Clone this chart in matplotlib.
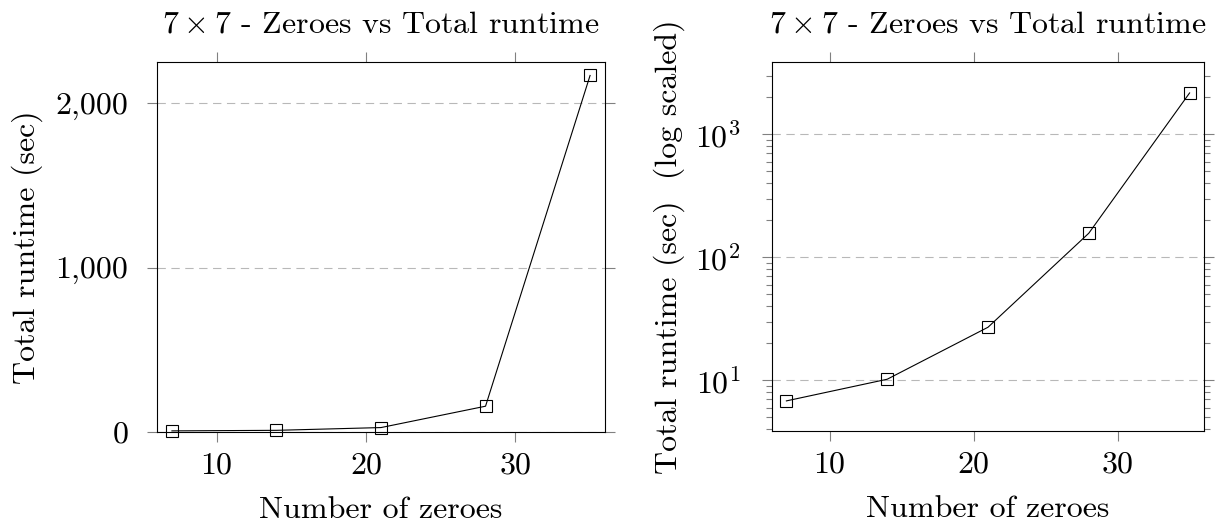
import matplotlib
matplotlib.use('Agg')
import matplotlib.pyplot as plt
from matplotlib.ticker import FuncFormatter, LogLocator, FixedLocator

# Computer Modern look
plt.rcParams['font.family'] = ['cmr10']
plt.rcParams['mathtext.fontset'] = 'cm'
plt.rcParams['axes.formatter.use_mathtext'] = True
plt.rcParams['lines.scale_dashes'] = False

zeroes = [7, 14, 21, 28, 35]
runtime = [6.8, 10.2, 27, 157, 2170]
x_ticks = [10, 20, 30]
lin_ticks = [0, 1000, 2000]

title = r'$7\times7$ - Zeroes vs Total runtime'
fs = 23
tick_gray = '#808080'

fig = plt.figure(figsize=(12.31, 5.23), dpi=100)
ax1 = fig.add_axes([157/1231, 91/523, 448/1231, 370/523])
ax2 = fig.add_axes([772/1231, 92/523, 432/1231, 369/523])


def style(ax, ypad):
    for s in ax.spines.values():
        s.set_linewidth(0.8)
        s.set_color('black')
    ax.tick_params(which='both', direction='out', color=tick_gray,
                   top=True, right=True, labelsize=fs, width=0.8)
    ax.tick_params(which='major', length=7.5)
    ax.tick_params(which='minor', length=4.5)
    ax.tick_params(axis='x', pad=7)
    ax.tick_params(axis='y', pad=ypad)
    ax.grid(True, axis='y', which='major', color='#b8b8b8',
            linestyle=(0, (6, 4)), linewidth=0.8)
    ax.set_axisbelow(True)
    ax.xaxis.set_major_locator(FixedLocator(x_ticks))
    ax.set_xlim(6, 36)
    ax.set_title(title, fontsize=fs, pad=21)
    ax.set_xlabel('Number of zeroes', fontsize=fs, labelpad=12)


# linear
ax1.plot(zeroes, runtime, color='black', linewidth=0.8, marker='s',
         markersize=8, markerfacecolor='none', markeredgewidth=0.8,
         clip_on=False, zorder=3)
ax1.set_ylim(0, 2252)
ax1.yaxis.set_major_locator(FixedLocator(lin_ticks))
ax1.yaxis.set_major_formatter(FuncFormatter(lambda v, p: '{:,}'.format(int(v))))
style(ax1, 13)
ax1.set_ylabel('Total runtime (sec)', fontsize=fs, labelpad=9)

# log scaled
ax2.plot(zeroes, runtime, color='black', linewidth=0.8, marker='s',
         markersize=8, markerfacecolor='none', markeredgewidth=0.8,
         clip_on=False, zorder=3)
ax2.set_yscale('log')
ax2.set_ylim(3.87, 3873)
ax2.yaxis.set_major_locator(LogLocator(base=10, numticks=10))
ax2.yaxis.set_minor_locator(LogLocator(base=10, subs=range(2, 10), numticks=20))
style(ax2, 15)
ax2.set_ylabel('Total runtime (sec)  (log scaled)', fontsize=fs, labelpad=7)

fig.savefig('out.png', dpi=100)
